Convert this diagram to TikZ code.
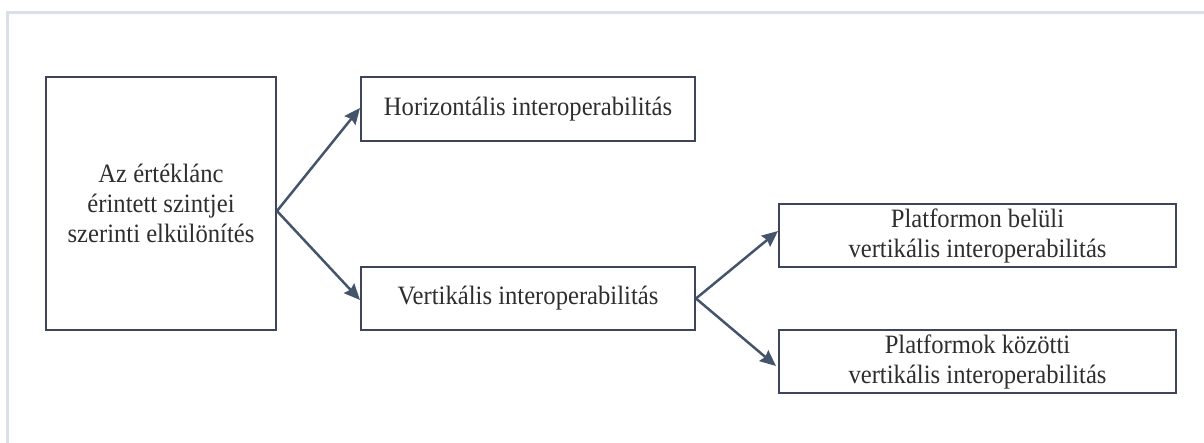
\documentclass[tikz,border=0pt]{standalone}
\usepackage{fontspec}
\setmainfont[FakeStretch=0.93]{Liberation Serif}
\usetikzlibrary{arrows.meta}
\definecolor{frameblue}{HTML}{D9E0EB}
\definecolor{boxline}{HTML}{3E4459}
\definecolor{arrowcol}{HTML}{44546A}
\definecolor{textcol}{HTML}{2E2E2E}
\begin{document}
\begin{tikzpicture}[x=1pt,y=-1pt,
  box/.style={draw=boxline, line width=2pt, fill=white, text=textcol,
    align=center, inner sep=0pt, font=\fontsize{26.5pt}{30pt}\selectfont},
  link/.style={draw=arrowcol, line width=2.5pt,
    -{Stealth[length=16pt,width=14pt,inset=2pt]}}]
  \useasboundingbox (0,0) rectangle (1204,443);
  % open frame around the figure
  \draw[frameblue, line width=3pt] (7,450) -- (7,13) -- (1210,13);

  \node[box, minimum width=230pt, minimum height=253pt] (src) at (161,203.5)
    {Az értéklánc\\érintett szintjei\\szerinti elkülönítés};
  \node[box, minimum width=334pt, minimum height=64pt] (hor) at (528,109)
    {Horizontális interoperabilitás};
  \node[box, minimum width=334pt, minimum height=63pt] (ver) at (528,298.5)
    {Vertikális interoperabilitás};
  \node[box, minimum width=397pt, minimum height=63pt] (pin) at (977.5,235.5)
    {Platformon belüli\\vertikális interoperabilitás};
  \node[box, minimum width=397pt, minimum height=63pt] (pbt) at (977.5,361.5)
    {Platformok közötti\\vertikális interoperabilitás};

  \coordinate (srcout) at ([yshift=-7.5pt]src.east);
  \draw[link] (srcout) -- ([yshift=1pt]hor.west);
  \draw[link] (srcout) -- ([yshift=-1.5pt]ver.west);
  \draw[link] (ver.east) -- ([yshift=4.5pt]pin.west);
  \draw[link] (ver.east) -- ([yshift=-4.5pt,xshift=-2pt]pbt.west);
\end{tikzpicture}
\end{document}
